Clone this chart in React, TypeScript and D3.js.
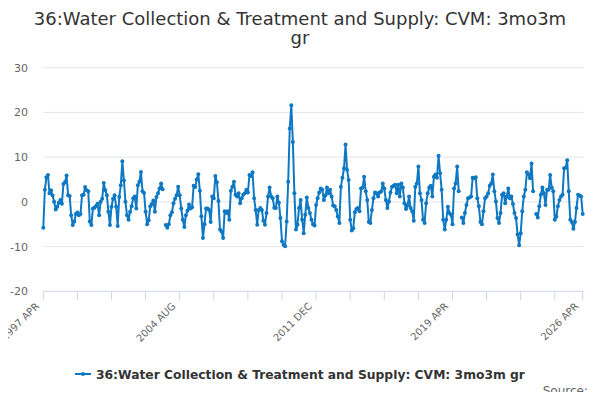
import { useEffect, useRef } from "react";
import * as d3 from "d3";

const TITLE_LINES = ["36:Water Collection & Treatment and Supply: CVM: 3mo3m", "gr"];
const SERIES_NAME = "36:Water Collection & Treatment and Supply: CVM: 3mo3m gr";

// monthly, 1997 APR .. 2026 APR (null = no value)
const VALUES: (number | null)[] = [
  -5.8, 2.7, 5.5, 6.0, 1.9, 2.6, 1.4, 0, -1.7, -1.1, -0.2, 0.4, -0.4, 4.0, 4.4, 5.9, 1.5, 1.3, -3.0, -5.2,
  -4.4, -2.7, -2.4, -3.0, -2.7, 1.5, 1.6, 3.3, 2.6, 2.4, -4.4, -5.2, -1.5, -1.3, -0.9, -0.4, -3.0, 0, 0.7, 4.2,
  2.6, 1.5, -2.2, -5.2, -1.1, 0.7, 1.5, -1.1, -5.4, 1.1, 3.7, 9.1, 4.8, 0, -3.0, -4.0, -2.2, -1.0, 0.8, 1.2,
  -1.5, 3.7, 4.5, 6.7, 2.4, 2.0, -2.2, -5.0, -4.1, -1.0, -0.5, 0.3, -2.2, 1.1, 1.9, 3.0, 4.1, 2.8, null, -5.2,
  -5.8, -5.0, -3.0, -2.3, -0.3, 0.7, 1.5, 3.4, 1.5, -1.5, -4.0, -5.6, -3.0, -2.0, -0.6, -1.5, -1.2, 3.6, 3.3, 5.0,
  6.2, 2.5, -3.2, -8.1, -5.0, -1.5, -1.5, -1.8, -4.5, 1.2, 0.8, 5.8, 4.4, 0.2, -6.2, -6.6, -8.1, -2.1, -2.5, -2.1,
  -4.0, 2.5, 3.4, 4.5, 1.6, 1.2, 1.9, -0.3, 0.8, 1.6, 1.9, 2.7, 2.1, 6.0, 5.8, 6.6, 0.8, -1.8, -5.1, -1.8,
  -1.4, -1.8, -4.2, -5.1, -2.5, 1.2, 3.2, 1.2, 0.8, -1.3, -1.4, 1.2, -0.2, -3.6, -8.8, -9.6, -9.9, -4.4, 4.5, 16.4,
  21.6, 13.4, 1.9, -6.2, -5.1, -1.4, 0.4, -4.0, -7.0, -2.9, 1.0, -1.4, -2.5, -4.0, -5.0, -5.3, -0.7, 0.8, 2.1, 3.0,
  2.7, 0.4, 1.4, 3.2, 1.9, 2.7, 1.2, -0.8, -1.0, -1.8, -3.3, -4.7, 3.4, 5.4, 7.5, 12.8, 7.1, 4.9, -4.0, -6.4,
  -5.9, -2.3, -1.6, -1.4, -2.1, 3.0, 3.2, 5.6, 2.4, 0.4, -4.5, -4.7, -1.8, 0.8, 2.1, 1.9, 1.2, 2.1, 2.3, 4.1,
  3.0, 0.4, -1.4, 0.1, 2.1, 3.4, 3.6, 3.8, 1.9, 3.8, 1.2, 4.1, 3.2, -0.3, -1.6, -0.8, 1.2, -1.4, -2.1, -4.2,
  3.4, 4.1, 7.9, 1.9, 0.4, -4.0, -4.7, -0.3, 1.9, 3.2, 3.6, 1.2, 5.6, 6.1, 5.4, 10.3, 6.4, 2.7, -4.0, -6.2,
  -4.0, -1.1, -2.5, -2.9, -5.0, 3.0, 4.1, 7.9, 2.4, null, -3.5, -4.7, -2.5, -0.7, 0.8, 1.0, 1.2, 5.4, 5.3, 5.5,
  0.8, -1.0, -4.5, -5.0, -2.1, 0.8, 1.2, 1.9, 3.6, 4.1, 6.1, 2.4, 0.1, -3.6, -4.7, -2.5, 1.6, 1.9, -0.3, 1.2,
  3.0, 0.8, 1.2, -0.5, -2.5, -3.6, -7.3, -9.7, -7.0, -2.1, 1.2, 2.7, 6.6, 6.1, 5.3, 8.6, 2.4, null, -2.7, -3.5,
  -1.0, 1.6, 3.2, 1.9, -0.7, 2.7, 2.7, 6.0, 3.2, 2.4, -4.0, -3.3, -1.0, 0.4, 1.2, 1.6, 7.5, 7.6, 9.3, 2.4,
  -4.0, -4.5, -6.0, -4.5, -1.4, 1.6, 1.4, 1.2, -2.7,
];

const X_LABELS = ["1997 APR", "2004 AUG", "2011 DEC", "2019 APR", "2026 APR"];
const X_LABEL_INDEX = [0, 88, 176, 264, 348];
const X_TICK_INDEX = [0, 22, 44, 66, 88, 110, 132, 154, 176, 198, 220, 242, 264, 286, 308, 330, 348];
const Y_TICKS = [-20, -10, 0, 10, 20, 30];

const W = 600;
const H = 400;
const PLOT = { left: 43.3, right: 582.7, top: 67.7, bottom: 291.3 };
const BLUE = "#0f78c3";
const FONT = "'DejaVu Sans', sans-serif";

export default function App() {
  const ref = useRef<SVGSVGElement>(null);

  useEffect(() => {
    const svg = d3.select(ref.current);
    svg.selectAll("*").remove();

    const x = d3.scaleLinear().domain([0, VALUES.length - 1]).range([PLOT.left, PLOT.right]);
    const y = d3.scaleLinear().domain([-20, 30]).range([PLOT.bottom, PLOT.top]);

    svg.append("rect").attr("width", W).attr("height", H).attr("fill", "#ffffff");

    // title
    TITLE_LINES.forEach((t, i) => {
      svg.append("text")
        .attr("x", W / 2).attr("y", 25 + i * 19)
        .attr("text-anchor", "middle")
        .attr("font-family", FONT).attr("font-size", 18)
        .attr("fill", "#333333")
        .text(t);
    });

    // grid + y labels
    Y_TICKS.forEach((v) => {
      if (v !== -20) {
        svg.append("line")
          .attr("x1", PLOT.left).attr("x2", PLOT.right + 1)
          .attr("y1", y(v)).attr("y2", y(v))
          .attr("stroke", "#e6e6e6").attr("stroke-width", 1);
      }
      svg.append("text")
        .attr("x", 28).attr("y", y(v) + 4)
        .attr("text-anchor", "end")
        .attr("font-family", FONT).attr("font-size", 11)
        .attr("fill", "#666666")
        .text(v);
    });

    // x axis
    svg.append("line")
      .attr("x1", PLOT.left).attr("x2", PLOT.right + 1)
      .attr("y1", PLOT.bottom).attr("y2", PLOT.bottom)
      .attr("stroke", "#ccd6eb").attr("stroke-width", 1);

    X_TICK_INDEX.forEach((i) => {
      svg.append("line")
        .attr("x1", x(i)).attr("x2", x(i))
        .attr("y1", PLOT.bottom).attr("y2", PLOT.bottom + 9)
        .attr("stroke", "#ccd6eb").attr("stroke-width", 1);
    });

    X_LABEL_INDEX.forEach((i, k) => {
      svg.append("text")
        .attr("transform", `translate(${x(i) - 3.5},${PLOT.bottom + 15.5}) rotate(-45)`)
        .attr("text-anchor", "end")
        .attr("font-family", FONT).attr("font-size", 10)
        .attr("fill", "#666666")
        .text(X_LABELS[k]);
    });

    // series
    const line = d3.line<number | null>()
      .defined((d) => d !== null)
      .x((_, i) => x(i))
      .y((d) => y(d as number));

    svg.append("path")
      .datum(VALUES)
      .attr("d", line)
      .attr("fill", "none")
      .attr("stroke", BLUE)
      .attr("stroke-width", 2)
      .attr("stroke-linejoin", "round");

    VALUES.forEach((d, i) => {
      if (d === null) return;
      svg.append("circle")
        .attr("cx", x(i)).attr("cy", y(d))
        .attr("r", 2)
        .attr("fill", BLUE);
    });

    // legend
    const lg = svg.append("g").attr("transform", "translate(75,374)");
    lg.append("line").attr("x1", 0).attr("x2", 16).attr("y1", 0).attr("y2", 0)
      .attr("stroke", BLUE).attr("stroke-width", 2);
    lg.append("circle").attr("cx", 8).attr("cy", 0).attr("r", 2).attr("fill", BLUE);
    lg.append("text")
      .attr("x", 21).attr("y", 4.5)
      .attr("font-family", FONT).attr("font-size", 12.3).attr("font-weight", "bold")
      .attr("fill", "#333333")
      .text(SERIES_NAME);

    // credits
    svg.append("text")
      .attr("x", 588).attr("y", 395)
      .attr("text-anchor", "end")
      .attr("font-family", FONT).attr("font-size", 12)
      .attr("fill", "#666666")
      .text("Source:");
  }, []);

  return (
    <div style={{ margin: -8 }}>
      <svg ref={ref} width={W} height={H} style={{ display: "block" }} />
    </div>
  );
}
